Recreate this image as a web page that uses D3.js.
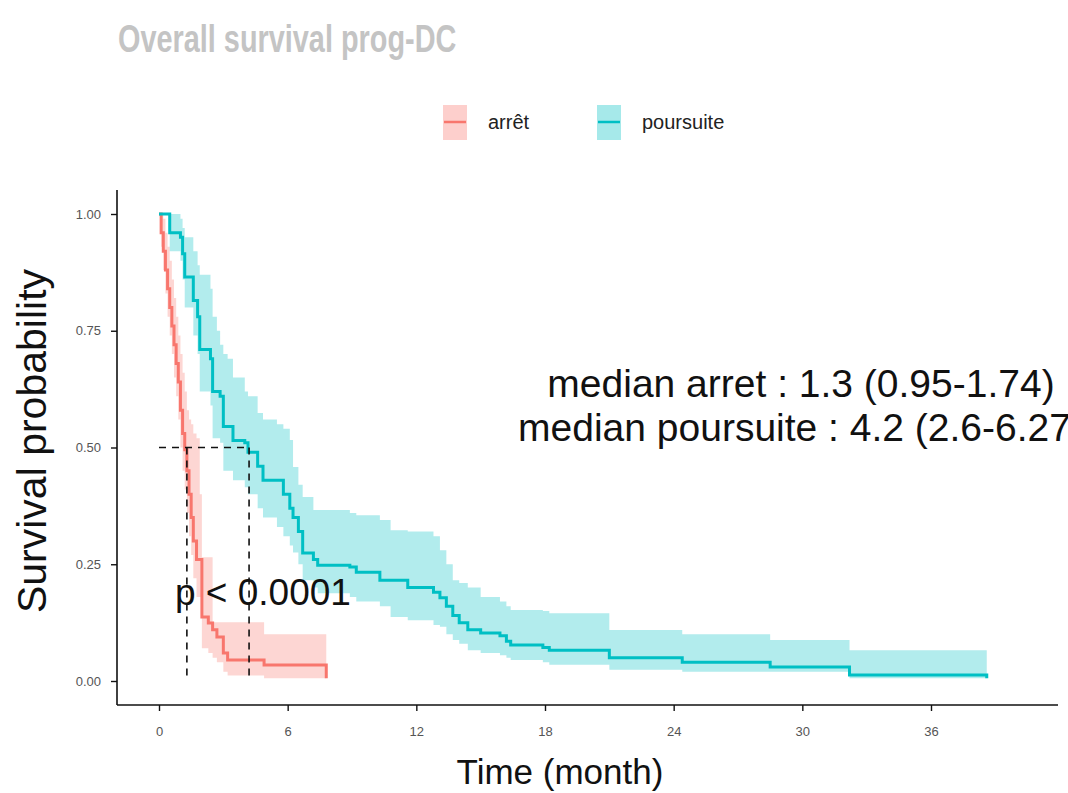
<!DOCTYPE html>
<html>
<head>
<meta charset="utf-8">
<script src="https://cdn.jsdelivr.net/npm/d3@7"></script>
<style>
  body { margin: 0; background: #fff; }
  svg { font-family: "Liberation Sans", Arial, sans-serif; }
</style>
</head>
<body>
<script>
// arrêt group: step times, survival, lower / upper CI
var arretTime  = [0, 0.1, 0.2, 0.3, 0.4, 0.5, 0.6, 0.7, 0.8, 0.9, 1.0, 1.1, 1.2, 1.3, 1.4, 1.5, 1.6, 1.75, 1.9, 2.0, 2.3, 2.5, 2.7, 3.0, 3.2, 4.9, 7.8];
var arretSurv  = [1, 0.96, 0.92, 0.88, 0.84, 0.80, 0.76, 0.72, 0.68, 0.64, 0.58, 0.53, 0.495, 0.45, 0.40, 0.35, 0.30, 0.26, 0.26, 0.137, 0.124, 0.11, 0.094, 0.06, 0.045, 0.034, 0.006];
var arretLower = [1, 0.93, 0.88, 0.83, 0.78, 0.74, 0.70, 0.65, 0.61, 0.56, 0.50, 0.45, 0.41, 0.36, 0.31, 0.27, 0.22, 0.18, 0.18, 0.07, 0.06, 0.05, 0.04, 0.02, 0.012, 0.006, 0.006];
var arretUpper = [1, 1, 0.99, 0.96, 0.93, 0.90, 0.86, 0.82, 0.78, 0.74, 0.70, 0.66, 0.62, 0.58, 0.56, 0.55, 0.53, 0.52, 0.40, 0.265, 0.265, 0.126, 0.126, 0.126, 0.126, 0.10, 0.10];

// poursuite group
var poursuiteTime  = [0, 0.5, 1.0, 1.1, 1.2, 1.6, 1.8, 1.9, 2.4, 2.5, 2.7, 2.85, 3.0, 3.2, 3.45, 4.0, 4.15, 4.6, 4.85, 5.5, 5.8, 6.1, 6.25, 6.5, 6.7, 7.2, 7.4, 8.9, 9.2, 10.3, 10.8, 11.6, 12.8, 13.1, 13.4, 13.7, 14.0, 14.4, 15.0, 15.9, 16.2, 16.4, 17.9, 18.2, 21.0, 24.4, 28.5, 32.2, 38.6];
var poursuiteSurv  = [1, 0.96, 0.95, 0.915, 0.865, 0.815, 0.78, 0.71, 0.69, 0.62, 0.62, 0.61, 0.545, 0.545, 0.515, 0.51, 0.49, 0.46, 0.43, 0.43, 0.40, 0.37, 0.35, 0.32, 0.274, 0.26, 0.248, 0.244, 0.233, 0.216, 0.216, 0.20, 0.19, 0.178, 0.16, 0.14, 0.125, 0.11, 0.103, 0.097, 0.085, 0.077, 0.072, 0.066, 0.05, 0.04, 0.03, 0.013, 0.006];
var poursuiteLower = [1, 0.92, 0.90, 0.86, 0.80, 0.74, 0.70, 0.62, 0.59, 0.52, 0.52, 0.51, 0.45, 0.45, 0.43, 0.415, 0.40, 0.37, 0.35, 0.33, 0.31, 0.29, 0.275, 0.25, 0.216, 0.20, 0.188, 0.18, 0.17, 0.16, 0.137, 0.13, 0.12, 0.116, 0.10, 0.088, 0.08, 0.066, 0.06, 0.055, 0.05, 0.045, 0.04, 0.035, 0.024, 0.02, 0.02, 0.006, 0.006];
var poursuiteUpper = [1, 1, 0.99, 0.97, 0.95, 0.92, 0.89, 0.87, 0.84, 0.78, 0.75, 0.72, 0.70, 0.69, 0.65, 0.62, 0.61, 0.574, 0.56, 0.55, 0.54, 0.516, 0.458, 0.42, 0.394, 0.366, 0.366, 0.36, 0.355, 0.345, 0.323, 0.32, 0.31, 0.28, 0.25, 0.216, 0.21, 0.20, 0.18, 0.17, 0.16, 0.152, 0.15, 0.145, 0.109, 0.10, 0.088, 0.066, 0.066];

var groups = ["arrêt", "poursuite"];
var colors = ["#F8766D", "#00BFC4"];
var medians = [1.3, 4.2];
var xTicks = [0, 6, 12, 18, 24, 30, 36];
var yTicks = [0, 0.25, 0.5, 0.75, 1];
var medianText = ["median arret : 1.3 (0.95-1.74)", "median poursuite : 4.2 (2.6-6.27)"];
var pText = "p < 0.0001";

var W = 1068, H = 793;
var svg = d3.select("body").append("svg").attr("width", W).attr("height", H);

var x = d3.scaleLinear().domain([0, 36]).range([159, 931]);
var y = d3.scaleLinear().domain([0, 1]).range([681, 214]);

function rows(t, s, lo, up) {
  return t.map(function(d, i) { return {t: d, s: s[i], lo: lo[i], up: up[i]}; });
}
var series = [
  rows(arretTime, arretSurv, arretLower, arretUpper),
  rows(poursuiteTime, poursuiteSurv, poursuiteLower, poursuiteUpper)
];

// title (condensed, as in the original screenshot)
svg.append("text")
  .attr("transform", "translate(118,52) scale(0.74,1)")
  .style("font-size", "39px").style("font-weight", "bold")
  .style("fill", "#c4c4c4")
  .text("Overall survival prog-DC");

// legend
var leg = svg.append("g");
var legX = [443, 597];
groups.forEach(function(g, i) {
  leg.append("rect").attr("x", legX[i]).attr("y", 105).attr("width", 24).attr("height", 35)
    .attr("fill", colors[i]).attr("fill-opacity", 0.35);
  leg.append("line").attr("x1", legX[i] + 1).attr("x2", legX[i] + 23).attr("y1", 122).attr("y2", 122)
    .attr("stroke", colors[i]).attr("stroke-width", 2.5);
  leg.append("text").attr("x", legX[i] + 45).attr("y", 129)
    .style("font-size", "20px").style("fill", "#222").text(g);
});

// bands
var area = d3.area().curve(d3.curveStepAfter)
  .x(function(d) { return x(d.t); })
  .y0(function(d) { return y(d.lo); })
  .y1(function(d) { return y(d.up); });
var line = d3.line().curve(d3.curveStepAfter)
  .x(function(d) { return x(d.t); })
  .y(function(d) { return y(d.s); });

series.forEach(function(s, i) {
  svg.append("path").attr("d", area(s)).attr("fill", colors[i]).attr("fill-opacity", 0.3);
});
series.forEach(function(s, i) {
  svg.append("path").attr("d", line(s)).attr("fill", "none")
    .attr("stroke", colors[i]).attr("stroke-width", 3);
});

// median dashed lines
svg.append("line")
  .attr("x1", x(0)).attr("x2", x(d3.max(medians)))
  .attr("y1", y(0.5)).attr("y2", y(0.5))
  .attr("stroke", "#111").attr("stroke-width", 1.6).attr("stroke-dasharray", "7,6");
medians.forEach(function(m) {
  svg.append("line")
    .attr("x1", x(m)).attr("x2", x(m))
    .attr("y1", y(0.5)).attr("y2", y(0))
    .attr("stroke", "#111").attr("stroke-width", 1.6).attr("stroke-dasharray", "7,6");
});

// axes
var xAxis = svg.append("g").attr("transform", "translate(0,705)")
  .call(d3.axisBottom(x).tickValues(xTicks).tickSize(6).tickPadding(16));
xAxis.select(".domain").attr("d", "M117,0H1058");
var yAxis = svg.append("g").attr("transform", "translate(117,0)")
  .call(d3.axisLeft(y).tickValues(yTicks).tickSize(6).tickPadding(10)
    .tickFormat(d3.format(".2f")));
yAxis.select(".domain").attr("d", "M0,190V705");
svg.selectAll(".domain").attr("stroke", "#111").attr("stroke-width", 1.6);
svg.selectAll(".tick line").attr("stroke", "#111").attr("stroke-width", 1.4);
svg.selectAll(".tick text").style("font-size", "13px").style("fill", "#555")
  .style("font-family", "'Liberation Sans Narrow', 'Liberation Sans', sans-serif");

// axis titles
svg.append("text")
  .attr("x", 560).attr("y", 784).attr("text-anchor", "middle")
  .style("font-size", "35px").style("fill", "#111")
  .text("Time (month)");
svg.append("text")
  .attr("transform", "translate(46,441) rotate(-90)").attr("text-anchor", "middle")
  .style("font-size", "41px").style("fill", "#111")
  .text("Survival probability");

// annotations (second line runs past the right edge, as in the original)
medianText.forEach(function(t, i) {
  svg.append("text")
    .attr("x", 801).attr("y", 397 + i * 44).attr("text-anchor", "middle")
    .style("font-size", "39px").style("fill", "#111")
    .text(t);
});
svg.append("text")
  .attr("x", 175).attr("y", 605)
  .style("font-size", "37px").style("fill", "#111")
  .text(pText);
</script>
</body>
</html>
